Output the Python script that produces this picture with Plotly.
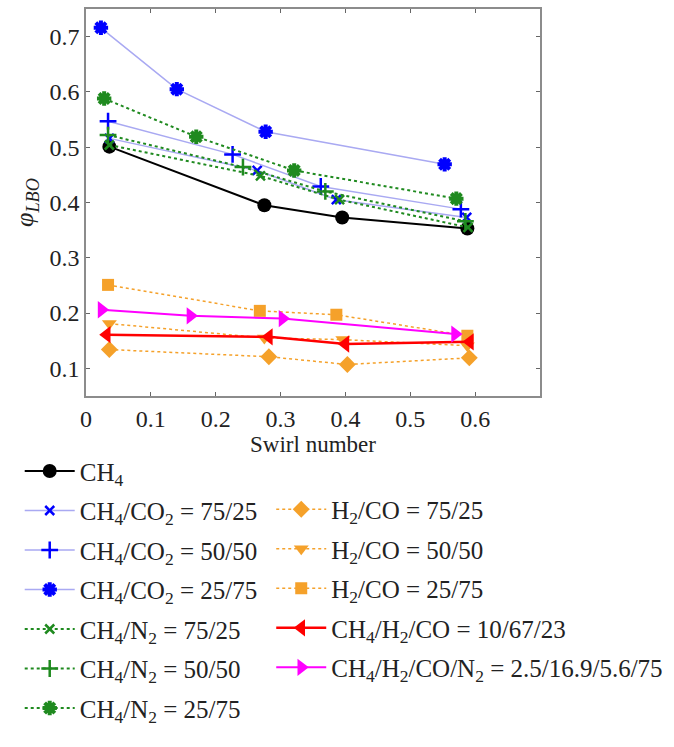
import plotly.graph_objects as go

# ---- data ----
ch4_x = [0.036, 0.275, 0.395, 0.588]
ch4_y = [0.501, 0.395, 0.373, 0.353]

co2_7525_x = [0.036, 0.264, 0.386, 0.587]
co2_7525_y = [0.516, 0.458, 0.405, 0.373]

co2_5050_x = [0.034, 0.226, 0.362, 0.578]
co2_5050_y = [0.547, 0.487, 0.429, 0.388]

co2_2575_x = [0.023, 0.140, 0.277, 0.553]
co2_2575_y = [0.716, 0.605, 0.528, 0.469]

n2_7525_x = [0.036, 0.269, 0.391, 0.589]
n2_7525_y = [0.504, 0.448, 0.405, 0.355]

n2_5050_x = [0.034, 0.242, 0.369, 0.585]
n2_5050_y = [0.522, 0.464, 0.420, 0.366]

n2_2575_x = [0.028, 0.170, 0.321, 0.571]
n2_2575_y = [0.588, 0.519, 0.458, 0.407]

h2co_7525_x = [0.036, 0.282, 0.403, 0.591]
h2co_7525_y = [0.134, 0.121, 0.107, 0.119]

h2co_5050_x = [0.036, 0.275, 0.396, 0.588]
h2co_5050_y = [0.181, 0.155, 0.152, 0.141]

h2co_2575_x = [0.034, 0.268, 0.386, 0.588]
h2co_2575_y = [0.251, 0.204, 0.197, 0.159]

ch4h2co_x = [0.032, 0.282, 0.400, 0.592]
ch4h2co_y = [0.161, 0.157, 0.144, 0.148]

ch4h2con2_x = [0.024, 0.161, 0.303, 0.569]
ch4h2con2_y = [0.206, 0.195, 0.190, 0.162]

x_ticks = [0, 0.1, 0.2, 0.3, 0.4, 0.5, 0.6]
y_ticks = [0.1, 0.2, 0.3, 0.4, 0.5, 0.6, 0.7]

FONT = "Liberation Serif"
BLUE_LINE = "#a9a9f2"
BLUE = "#0000ff"
GREEN = "#1f8a1f"
ORANGE = "#f5a12a"
RED = "#ff0000"
MAGENTA = "#ff00ff"

fig = go.Figure()

def add(x, y, name, lcolor, mcolor, symbol, msize, lwidth, dash, legend, mline=0):
    fig.add_trace(go.Scatter(
        x=x, y=y, name=name, mode="lines+markers",
        line=dict(color=lcolor, width=lwidth, dash=dash),
        marker=dict(color=mcolor, symbol=symbol, size=msize,
                    line=dict(color=mcolor, width=mline)),
        legend=legend, legendgroup=name,
    ))

add(ch4_x, ch4_y, "CH<sub>4</sub>", "black", "black", "circle", 14, 2, "solid", "legend")
add(co2_7525_x, co2_7525_y, "CH<sub>4</sub>/CO<sub>2</sub> = 75/25", BLUE_LINE, BLUE, "x-thin", 9, 1.5, "solid", "legend", 2.5)
add(co2_5050_x, co2_5050_y, "CH<sub>4</sub>/CO<sub>2</sub> = 50/50", BLUE_LINE, BLUE, "cross-thin", 12, 1.5, "solid", "legend", 2.5)
add(co2_2575_x, co2_2575_y, "CH<sub>4</sub>/CO<sub>2</sub> = 25/75", BLUE_LINE, BLUE, "asterisk", 12, 1.5, "solid", "legend", 4)
add(n2_7525_x, n2_7525_y, "CH<sub>4</sub>/N<sub>2</sub> = 75/25", GREEN, GREEN, "x-thin", 9, 2, "dot", "legend", 2.5)
add(n2_5050_x, n2_5050_y, "CH<sub>4</sub>/N<sub>2</sub> = 50/50", GREEN, GREEN, "cross-thin", 12, 2, "dot", "legend", 2.5)
add(n2_2575_x, n2_2575_y, "CH<sub>4</sub>/N<sub>2</sub> = 25/75", GREEN, GREEN, "asterisk", 12, 2, "dot", "legend", 4)

add(h2co_7525_x, h2co_7525_y, "H<sub>2</sub>/CO = 75/25", ORANGE, ORANGE, "diamond", 13, 1.5, "dot", "legend2")
add(h2co_5050_x, h2co_5050_y, "H<sub>2</sub>/CO = 50/50", ORANGE, ORANGE, "triangle-down", 13, 1.5, "dot", "legend2")
add(h2co_2575_x, h2co_2575_y, "H<sub>2</sub>/CO = 25/75", ORANGE, ORANGE, "square", 12, 1.5, "dot", "legend2")
add(ch4h2co_x, ch4h2co_y, "CH<sub>4</sub>/H<sub>2</sub>/CO = 10/67/23", RED, RED, "triangle-left", 15, 2.5, "solid", "legend2")
add(ch4h2con2_x, ch4h2con2_y, "CH<sub>4</sub>/H<sub>2</sub>/CO/N<sub>2</sub> = 2.5/16.9/5.6/75", MAGENTA, MAGENTA, "triangle-right", 15, 2, "solid", "legend2")

axis_common = dict(
    showline=True, linecolor="#8c8c8c", linewidth=1.5, mirror="ticks",
    ticks="inside", ticklen=4, tickcolor="#666666", showgrid=False, zeroline=False,
    tickfont=dict(family=FONT, size=24, color="#222222"),
)

fig.update_layout(
    width=674, height=747,
    margin=dict(l=86, r=134, t=9, b=351, autoexpand=False),
    paper_bgcolor="white", plot_bgcolor="white",
    font=dict(family=FONT, color="#222222"),
    xaxis=dict(range=[0, 0.7], tickvals=x_ticks, ticktext=[("0" if v == 0 else f"{v:.1f}") for v in x_ticks],
               title=dict(text="Swirl number", font=dict(family=FONT, size=23), standoff=0), **axis_common),
    yaxis=dict(range=[0.05, 0.75], tickvals=y_ticks, ticktext=[f"{v:.1f}" for v in y_ticks],
               title=dict(text="<i>φ</i><sub><i>LBO</i></sub>", font=dict(family=FONT, size=26), standoff=8), **axis_common),
    legend=dict(x=-0.146, y=-0.135, xanchor="left", yanchor="top", bgcolor="rgba(0,0,0,0)",
                font=dict(family=FONT, size=25, color="#222222"), tracegroupgap=4, itemwidth=50),
    legend2=dict(x=0.408, y=-0.234, xanchor="left", yanchor="top", bgcolor="rgba(0,0,0,0)",
                 font=dict(family=FONT, size=25, color="#222222"), tracegroupgap=4, itemwidth=50),
)

fig.write_html("out.html")
